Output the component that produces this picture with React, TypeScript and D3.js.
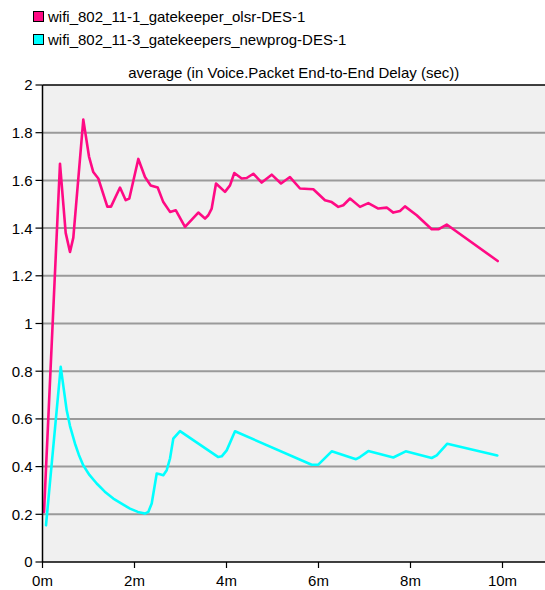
import React from 'react';
import * as d3 from 'd3';

// pink series: wifi_802_11-1_gatekeeper_olsr-DES-1 (minutes, seconds)
const olsrTime = [0.033, 0.38, 0.504, 0.598, 0.67, 0.887, 1.011, 1.104, 1.213, 1.409, 1.489, 1.685, 1.809, 1.887, 2.083, 2.228, 2.352, 2.504, 2.626, 2.772, 2.896, 3.098, 3.387, 3.533, 3.604, 3.678, 3.772, 3.967, 4.076, 4.17, 4.33, 4.439, 4.583, 4.765, 4.983, 5.185, 5.38, 5.598, 5.887, 6.141, 6.287, 6.43, 6.539, 6.685, 6.902, 7.083, 7.3, 7.483, 7.626, 7.772, 7.88, 8.135, 8.461, 8.604, 8.787, 9.896];
const olsrDelay = [0.21, 1.67, 1.38, 1.3, 1.36, 1.855, 1.7, 1.635, 1.608, 1.49, 1.49, 1.57, 1.517, 1.524, 1.69, 1.614, 1.579, 1.57, 1.509, 1.468, 1.475, 1.405, 1.465, 1.44, 1.454, 1.482, 1.587, 1.552, 1.579, 1.631, 1.608, 1.61, 1.628, 1.591, 1.624, 1.587, 1.614, 1.566, 1.563, 1.517, 1.509, 1.489, 1.496, 1.524, 1.489, 1.505, 1.482, 1.486, 1.465, 1.472, 1.491, 1.454, 1.395, 1.395, 1.415, 1.262];

// cyan series: wifi_802_11-3_gatekeepers_newprog-DES-1
const newprogTime = [0.076, 0.396, 0.526, 0.598, 0.707, 0.789, 0.887, 1.02, 1.178, 1.354, 1.539, 1.737, 1.902, 2.072, 2.228, 2.3, 2.374, 2.483, 2.554, 2.626, 2.7, 2.772, 2.843, 2.989, 3.822, 3.896, 4.004, 4.185, 5.852, 5.996, 6.287, 6.815, 6.902, 7.083, 7.626, 7.896, 8.461, 8.57, 8.8, 9.887];
const newprogDelay = [0.154, 0.818, 0.636, 0.57, 0.496, 0.45, 0.405, 0.365, 0.329, 0.295, 0.266, 0.243, 0.224, 0.21, 0.203, 0.21, 0.245, 0.371, 0.368, 0.364, 0.385, 0.434, 0.517, 0.549, 0.44, 0.443, 0.468, 0.548, 0.408, 0.408, 0.464, 0.431, 0.44, 0.465, 0.438, 0.464, 0.436, 0.447, 0.496, 0.447];

const yTicks = [0, 0.2, 0.4, 0.6, 0.8, 1, 1.2, 1.4, 1.6, 1.8, 2];
const xTicks = [0, 2, 4, 6, 8, 10];
const legendNames = ['wifi_802_11-1_gatekeeper_olsr-DES-1', 'wifi_802_11-3_gatekeepers_newprog-DES-1'];
const colors = ['#ff0a84', '#00ffff'];
const title = 'average (in Voice.Packet End-to-End Delay (sec))';

const W = 545;
const H = 590;
const left = 42.5;
const right = 545;
const top = 85;
const bottom = 562;
const font = 'Arial, "Liberation Sans", sans-serif';

export default function App() {
  // 46 px per minute on the original
  const x = d3.scaleLinear().domain([0, (right - left) / 46]).range([left, right]);
  const y = d3.scaleLinear().domain([0, 2]).range([bottom, top]);

  const line = d3.line<[number, number]>()
    .x(d => x(d[0]))
    .y(d => y(d[1]));

  const series = [
    olsrTime.map((t, i) => [t, olsrDelay[i]] as [number, number]),
    newprogTime.map((t, i) => [t, newprogDelay[i]] as [number, number]),
  ];

  return (
    <div style={{ position: 'absolute', left: 0, top: 0 }}>
      <svg width={W} height={H} style={{ display: 'block', background: '#fff' }} fontFamily={font}>
        {legendNames.map((name, i) => (
          <g key={name} transform={`translate(33,${11 + i * 23})`}>
            <rect x={0.5} y={0.5} width={10} height={10} fill={colors[i]} stroke="#000" strokeWidth={1} />
            <text x={15} y={10.5} fontSize={15} fill="#000">{name}</text>
          </g>
        ))}

        <text x={(left + right) / 2} y={78} textAnchor="middle" fontSize={15} fill="#000">{title}</text>

        <rect x={left} y={top} width={right - left} height={bottom - top} fill="#f0f0f0" />

        {yTicks.filter(t => t > 0 && t < 2).map(t => (
          <line key={t} x1={left} x2={right} y1={y(t)} y2={y(t)} stroke="#9a9a9a" strokeWidth={2} />
        ))}
        <line x1={left} x2={right} y1={y(2)} y2={y(2)} stroke="#000" strokeWidth={1.5} />

        {series.map((pts, i) => (
          <path key={i} d={line(pts) || ''} fill="none" stroke={colors[i]} strokeWidth={2.6} strokeLinejoin="round" strokeLinecap="round" />
        ))}

        <line x1={left} x2={left} y1={top} y2={bottom} stroke="#000" strokeWidth={1.5} />
        <line x1={left} x2={right} y1={bottom} y2={bottom} stroke="#000" strokeWidth={1.5} />

        {yTicks.map(t => (
          <g key={t} transform={`translate(0,${y(t)})`}>
            <line x1={left - 7} x2={left} stroke="#000" strokeWidth={1.2} />
            <text x={left - 10} dy="0.36em" textAnchor="end" fontSize={15} fill="#000">{d3.format('~g')(t)}</text>
          </g>
        ))}

        {xTicks.map(t => (
          <g key={t} transform={`translate(${x(t)},0)`}>
            <line y1={bottom} y2={bottom + 6} stroke="#000" strokeWidth={1.2} />
            <text y={586} textAnchor="middle" fontSize={15} fill="#000">{`${t}m`}</text>
          </g>
        ))}
      </svg>
    </div>
  );
}
